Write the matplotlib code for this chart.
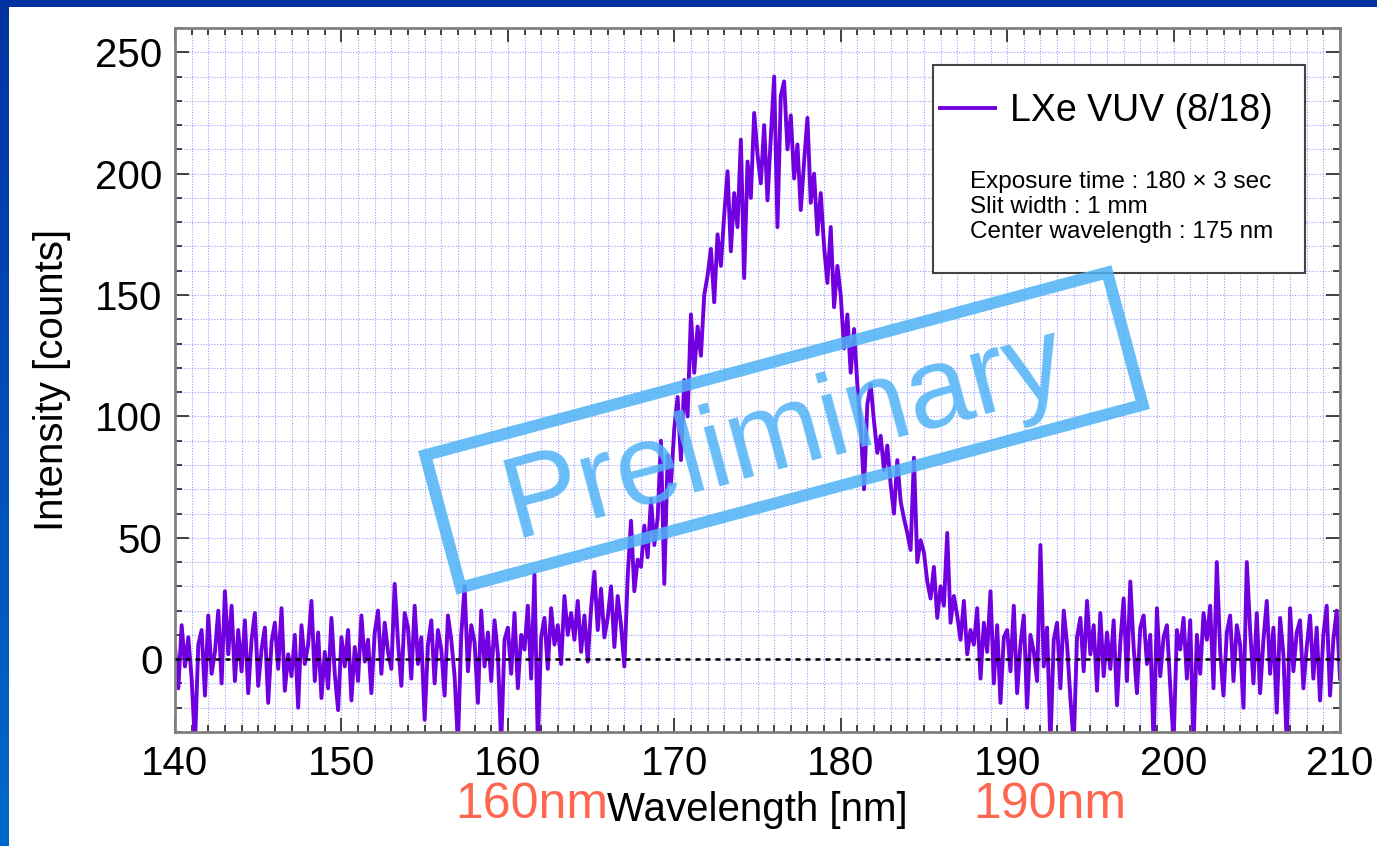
import numpy as np
import matplotlib
matplotlib.use("Agg")
import matplotlib.pyplot as plt
from matplotlib.patches import Rectangle, Polygon
from matplotlib.ticker import MultipleLocator

plt.rcParams["font.family"] = ["Liberation Sans", "DejaVu Sans"]

# spectrum, 0.2 nm steps starting at 140 nm
baseline_left = [
    5, -12, 14, -3, 9,
    -8, -35, 6, 12, -15,
    18, -6, 3, 20, -10,
    28, 2, 22, -9, 12,
    -5, 16, -14, 8, 19,
    -11, 4, 13, -18, 7,
    15, -4, 21, -13, 2,
    -7, 10, -20, 14, -2,
    6, 24, -9, 11, -16,
    3, -12, 17, -6, -21,
    9, -3, 12, -17, 5,
    -9, 18, -1, 8, -14,
    11, 20, -6, 15, 3,
    -4, 31, 7, -11, 19,
    13, -8, 22, -2, 9,
    -25, 6, 16, -10, 12,
    4, -15, 18, 8, -7,
    -35, 10, 30, -5, 14,
    7, -18, 20, -3, 11,
    -9, 16, 2, -35, 8,
]
rising_edge = [
    13, -6, 19, -12, 10,
    4, 22, -8, 35, -35,
    9, 17, -4, 21, 6,
    14, -2, 26, 10, 19,
    8, 24, 3, 18, -1,
    21, 36, 12, 29, 9,
    17, 30, 5, 26, 14,
    -3, 34, 57, 28, 41,
    38, 55, 42, 66, 47,
    58, 90, 31, 84, 72,
    95, 108, 82, 115, 100,
    142, 118, 137, 125, 150,
    158, 169, 147, 175, 162,
    183, 201, 168, 192, 178,
]
peak_top = [
    214, 157, 205, 190, 225,
    208, 196, 220, 189, 215,
    240, 178, 232, 238, 210,
    224, 198, 212, 185, 205,
    223, 188, 200, 175, 192,
]
falling_edge = [
    170, 155, 178, 145, 162,
    150, 128, 142, 118, 136,
    113, 96, 70, 105, 113,
    98, 85, 92, 78, 88,
    72, 60, 82, 65, 58,
    52, 45, 83, 40, 49,
    44, 32, 25, 38, 17,
    30, 22, 52, 15, 26,
    18, 8, 24, 2, 12,
]
baseline_right = [
    6, 21, -8, 15, 3,
    28, -10, 14, -18, 9,
    12, -5, 22, -14, 6,
    18, -20, 10, 3, -9,
    47, -3, 13, -35, 8,
    15, -12, 20, 6, -16,
    -35, 9, 17, -5, 24,
    2, 14, -13, 19, -7,
    11, -4, 16, -19, 7,
    25, -9, 32, 5, -14,
    13, 18, -2, 10, -35,
    21, -7, 9, 14, -11,
    -35, 12, 4, 17, -8,
    16, -35, 10, -6, 19,
    8, 22, -12, 40, 3,
    -15, 11, 18, -9, 14,
    6, -20, 40, 12, -10,
    19, -14, 8, 24, -6,
    13, -22, 17, 2, -35,
    21, -5, 11, 16, -12,
    5, 18, -8, 13, -17,
    10, 22, -15, 8, 20,
    -8,
]

counts = np.array(baseline_left + rising_edge + peak_top + falling_edge + baseline_right, dtype=float)
wavelength = np.linspace(140, 210, len(counts))

series_label = "LXe VUV (8/18)"
info_lines = ["Exposure time : 180 \u00d7 3 sec", "Slit width : 1 mm", "Center wavelength : 175 nm"]
marked_lines = ["160nm", "190nm"]

W, H = 1377, 846
fig = plt.figure(figsize=(W / 100, H / 100), dpi=100)

# blue slide frame with white panel
bg = fig.add_axes([0, 0, 1, 1], zorder=-10)
grad = np.linspace(0, 1, 256).reshape(-1, 1)
blues = matplotlib.colors.LinearSegmentedColormap.from_list("frame", ["#0033a0", "#0068cc"])
bg.imshow(grad, cmap=blues, aspect="auto", extent=[0, 1, 0, 1], origin="upper")
bg.add_patch(Rectangle((9 / W, 0), 1, (H - 7) / H, facecolor="white", edgecolor="none"))
bg.set_xlim(0, 1)
bg.set_ylim(0, 1)
bg.axis("off")

ax = fig.add_axes([175 / W, 1 - 732 / H, 1165 / W, 704 / H])
ax.set_facecolor("white")
ax.plot(wavelength, counts, color="#7100e0", lw=2.8, zorder=2, label=series_label)
ax.axhline(0, color="black", lw=1.8, ls=(0, (2, 2)), zorder=3)

ax.set_xlim(140, 210)
ax.set_ylim(-30, 260)
ax.xaxis.set_major_locator(MultipleLocator(10))
ax.xaxis.set_minor_locator(MultipleLocator(1))
ax.yaxis.set_major_locator(MultipleLocator(50))
ax.yaxis.set_minor_locator(MultipleLocator(10))
ax.grid(which="both", color="#7b7bff", ls=(0, (1, 1.5)), lw=0.8, alpha=0.75, zorder=0)
ax.set_axisbelow(True)

ax.tick_params(which="both", direction="in", top=True, right=True, color="#333333", width=1.3)
ax.tick_params(which="major", length=10, labelsize=29, pad=9)
ax.tick_params(which="minor", length=5)
for s in ax.spines.values():
    s.set_color("#808080")
    s.set_linewidth(2)

ax.set_xlabel("Wavelength [nm]", fontsize=29, labelpad=6)
ax.set_ylabel("Intensity [counts]", fontsize=29)
ax.yaxis.set_label_coords(-104 / 1165, 0.5)

# legend box with run info
ax.add_patch(Rectangle((758 / 1165, (732 - 273) / 704), 372 / 1165, 208 / 704,
                       transform=ax.transAxes, facecolor="white", edgecolor="#444444",
                       lw=1.5, zorder=4))
ax.legend(loc="center left", bbox_to_anchor=(765 / 1165, (732 - 111) / 704), frameon=False,
          fontsize=27, handlelength=1.47, handletextpad=0.4, borderpad=0, borderaxespad=0)
leg = ax.get_legend()
leg.set_zorder(5)
ax.text(795 / 1165, (732 - 171) / 704, "\n".join(info_lines), transform=ax.transAxes,
        fontsize=17.5, va="top", ha="left", linespacing=1.17, zorder=5)

# "Preliminary" stamp, drawn in pixel units (inches from bottom-left)
ang = np.deg2rad(15)
cx, cy = 784 / 100, (H - 430) / 100
hw, hh = 706 / 200, 137 / 200
rot = np.array([[np.cos(ang), -np.sin(ang)], [np.sin(ang), np.cos(ang)]])
corners = np.array([[-hw, -hh], [hw, -hh], [hw, hh], [-hw, hh]]) @ rot.T + [cx, cy]
stamp_col = "#4fb2f6"
fig.patches.append(Polygon(corners, closed=True, fill=False, edgecolor=stamp_col, lw=8.5,
                           alpha=0.85, transform=fig.dpi_scale_trans, zorder=10))
fig.text(785 / W, 1 - 435 / H, "Preliminary", fontsize=83, color=stamp_col, alpha=0.85,
         rotation=15, rotation_mode="anchor", ha="center", va="center", zorder=11)

# hand-written range marks
fig.text(455 / W, 1 - 818 / H, marked_lines[0], fontsize=36, color="#ff6650", va="baseline")
fig.text(973 / W, 1 - 818 / H, marked_lines[1], fontsize=36, color="#ff6650", va="baseline")

fig.savefig("out.png", dpi=100)
